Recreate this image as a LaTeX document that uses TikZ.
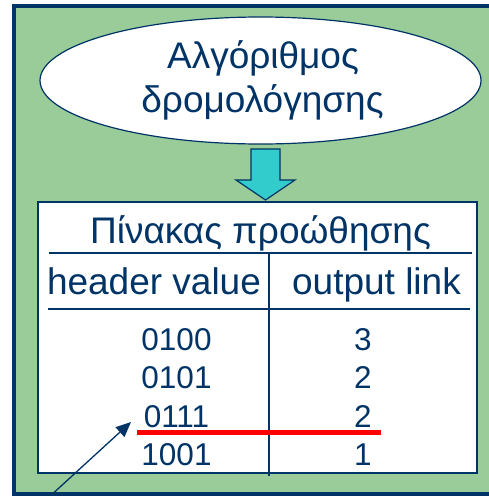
\documentclass[tikz,border=0pt]{standalone}
\usepackage{fontspec}
\setmainfont{Liberation Sans}
\usetikzlibrary{shapes.geometric,arrows.meta}
\definecolor{navy}{HTML}{003366}
\definecolor{bggreen}{HTML}{99CC99}
\definecolor{cyanfill}{HTML}{33CCCC}
\definecolor{redline}{HTML}{FF0000}
\begin{document}
\begin{tikzpicture}[x=1pt,y=-1pt,
  txt/.style={text=navy, inner sep=0pt, anchor=base},
  big/.style={txt, font=\fontsize{37}{45}\selectfont},
  cell/.style={txt, font=\fontsize{31.5}{36}\selectfont},
  rule/.style={draw=navy, line width=1.3pt}]
\useasboundingbox (0,0) rectangle (489,496);
\clip (0,0) rectangle (489,496);
% background panel
\draw[navy, line width=3.5pt, fill=bggreen] (14,6) rectangle (510,494);
% ellipse
\node[ellipse, draw=navy, fill=white, line width=1.2pt, minimum width=441pt, minimum height=127pt, inner sep=0pt] (algo) at (260.5,80.5) {};
\node[big] (algo1) at (263,68) {Αλγόριθμος};
\node[big] (algo2) at (262.5,112) {δρομολόγησης};
% block arrow
\draw[navy, line width=1.2pt, fill=cyanfill, line join=miter]
  (251,149) -- (280,149) -- (280,180) -- (295,180) -- (265.5,200) -- (236,180) -- (251,180) -- cycle;
% table box
\draw[navy, line width=1.5pt, fill=white] (38,202) rectangle (477,473);
\node[big] (title) at (260.5,243) {Πίνακας προώθησης};
\draw[rule] (49,253) -- (472,253);
\node[big] (hv) at (154,294) {header value};
\node[big] (ol) at (376.5,294) {output link};
\draw[rule] (48,309) -- (470,309);
\draw[rule] (269,252) -- (269,476);
% rows
\node[cell] (h1) at (176.5,350) {0100};
\node[cell] (h2) at (176.5,388) {0101};
\node[cell] (h3) at (176.5,427) {0111};
\node[cell] (h4) at (176.5,465) {1001};
\node[cell] (o1) at (363,350) {3};
\node[cell] (o2) at (363,388) {2};
\node[cell] (o3) at (363,427) {2};
\node[cell] (o4) at (363,465) {1};
% red line
\coordinate (rl) at (137,432);
\coordinate (rr) at (381,432);
\draw[redline, line width=5pt] (rl) -- (rr);
% pointer arrow
\coordinate (tail) at (48,498);
\coordinate (tip) at (131,422);
\draw[navy, line width=1.3pt, -{Triangle[length=15pt,width=13pt]}] (tail) -- (tip);
\end{tikzpicture}
\end{document}
